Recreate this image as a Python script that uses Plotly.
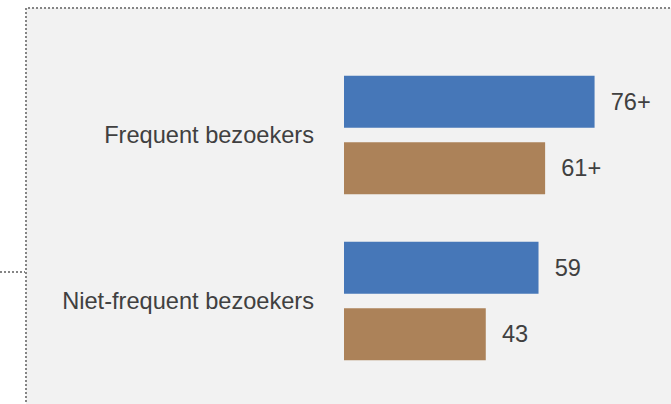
import plotly.graph_objects as go

categories = ["Frequent bezoekers", "Niet-frequent bezoekers"]
series_a = [76, 59]
series_a_labels = ["76+", "59"]
series_b = [61, 43]
series_b_labels = ["61+", "43"]

FONT = "Liberation Sans, Arial, sans-serif"
TXT = "#404040"
PAD = "\u00a0\u00a0"
FS = 23.6

fig = go.Figure()
fig.add_trace(go.Bar(
    y=categories, x=series_a, orientation="h",
    marker=dict(color="#4677B8", line=dict(width=0)),
    text=[PAD + s for s in series_a_labels], textposition="outside",
    textfont=dict(family=FONT, size=FS, color=TXT),
    constraintext="none", cliponaxis=False, hoverinfo="skip",
))
fig.add_trace(go.Bar(
    y=categories, x=series_b, orientation="h",
    marker=dict(color="#AC8259", line=dict(width=0)),
    text=[PAD + s for s in series_b_labels], textposition="outside",
    textfont=dict(family=FONT, size=FS, color=TXT),
    constraintext="none", cliponaxis=False, hoverinfo="skip",
))

L, R, T, B = 344, 0, 52, 20
W, H = 671, 404
pw, ph = W - L - R, H - T - B
px_per_unit = 3.297

def px_to_paper_x(p):
    return (p - L) / pw

def px_to_paper_y(p):
    return (H - B - p) / ph

DOT = dict(color="#858585", width=2, dash="2px,2px")

fig.update_layout(
    width=W, height=H,
    margin=dict(l=L, r=R, t=T, b=B, pad=0),
    paper_bgcolor="white",
    plot_bgcolor="rgba(0,0,0,0)",
    barmode="group", bargap=0.198, bargroupgap=0.22,
    showlegend=False,
    font=dict(family=FONT, size=FS, color=TXT),
    xaxis=dict(range=[0, pw / px_per_unit], visible=False, fixedrange=True),
    yaxis=dict(categoryorder="array", categoryarray=categories, autorange="reversed",
               showgrid=False, zeroline=False, showline=False, ticks="",
               ticklabelstandoff=29,
               tickfont=dict(family=FONT, size=FS, color=TXT)),
    shapes=[
        dict(type="rect", xref="paper", yref="paper",
             x0=px_to_paper_x(26), x1=px_to_paper_x(700),
             y0=px_to_paper_y(440), y1=px_to_paper_y(8),
             fillcolor="#F2F2F2", line=DOT, layer="below"),
        dict(type="line", xref="paper", yref="paper",
             x0=px_to_paper_x(0), x1=px_to_paper_x(25),
             y0=px_to_paper_y(272), y1=px_to_paper_y(272),
             line=DOT, layer="below"),
    ],
)

fig.write_html("out.html", config={"displayModeBar": False},
               post_script="document.body.style.margin='0';document.body.style.overflow='hidden';")
